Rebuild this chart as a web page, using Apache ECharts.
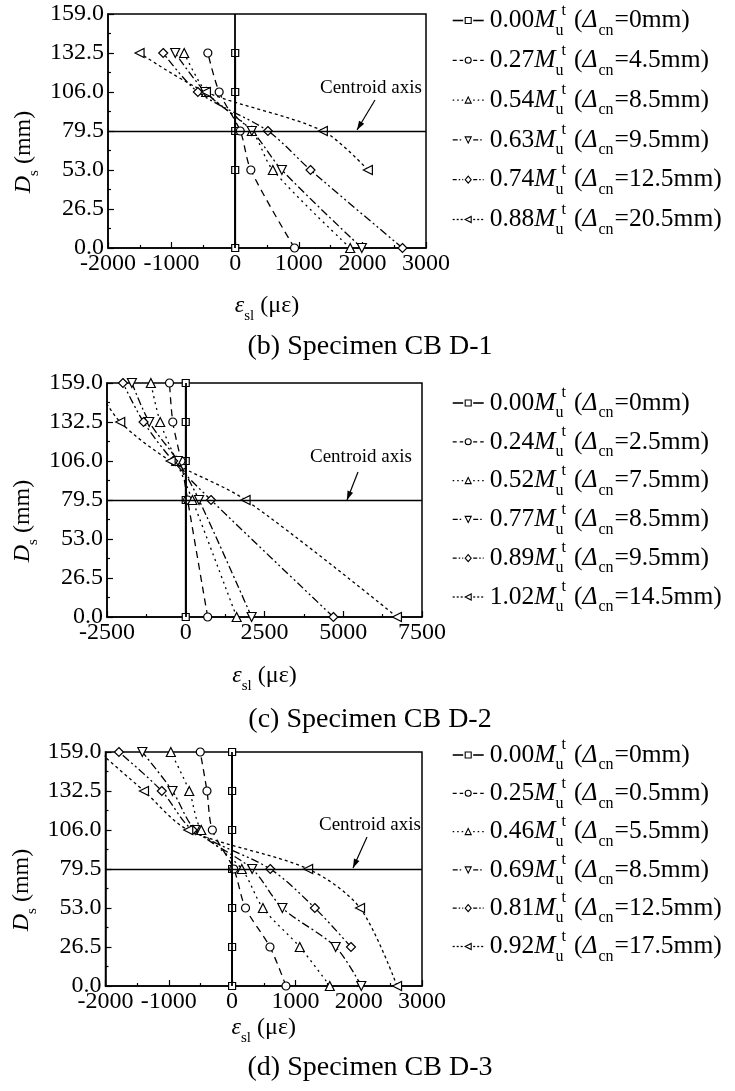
<!DOCTYPE html>
<html><head><meta charset="utf-8">
<script src="https://cdn.jsdelivr.net/npm/echarts@6/dist/echarts.min.js"></script>
<style>html,body{margin:0;padding:0;background:#fff}#c{width:735px;height:1091px}</style>
</head><body><div id="c"></div>
<script>
// depth levels (mm) = y tick labels
const levels = [0, 26.5, 53, 79.5, 106, 132.5, 159];
const yTicks = [0, 26.5, 53, 79.5, 106, 132.5, 159];

// ---- Panel (b) Specimen CB D-1
const bXTicks = [-2000, -1000, 0, 1000, 2000, 3000];
const bLoad  = ['0.00', '0.27', '0.54', '0.63', '0.74', '0.88'];
const bDelta = ['0', '4.5', '8.5', '9.5', '12.5', '20.5'];
const bS0 = [0, null, 0, 0, 0, 0, null];
const bS1 = [933, null, 246, 79, -252, -430, null];
const bS2 = [1808, null, 592, 262, -456, -802, null];
const bS3 = [1991, null, 734, 262, -470, -943, null];
const bS4 = [2630, null, 1184, 514, -587, -1132, null];
const bS5 = [null, null, 2086, 1378, -460, -1504, null];

// ---- Panel (c) Specimen CB D-2
const cXTicks = [-2500, 0, 2500, 5000, 7500];
const cLoad  = ['0.00', '0.24', '0.52', '0.77', '0.89', '1.02'];
const cDelta = ['0', '2.5', '7.5', '8.5', '9.5', '14.5'];
const cS0 = [0, null, null, 0, 0, 0, 0];
const cS1 = [696, null, null, 60, -150, -411, -516];
const cS2 = [1616, null, null, 211, -300, -812, -1107];
const cS3 = [2091, null, null, 422, -250, -1160, -1709];
const cS4 = [4687, null, null, 802, -400, -1340, -1994];
const cS5 = [6705, null, null, 1899, -480, -2080, -2900];

// ---- Panel (d) Specimen CB D-3
const dXTicks = [-2000, -1000, 0, 1000, 2000, 3000];
const dLoad  = ['0.00', '0.25', '0.46', '0.69', '0.81', '0.92'];
const dDelta = ['0', '0.5', '5.5', '8.5', '12.5', '17.5'];
const dS0 = [0, 0, 0, 0, 0, 0, 0];
const dS1 = [851, 598, 212, 26, -312, -397, -503];
const dS2 = [1543, 1069, 487, 153, -487, -677, -968];
const dS3 = [2041, 1636, 794, 317, -582, -942, -1418];
const dS4 = [null, 1878, 1307, 603, -624, -1111, -1788];
const dS5 = [2606, null, 2021, 1201, -693, -1392, -2100];

const captions = ['(b) Specimen CB D-1', '(c) Specimen CB D-2', '(d) Specimen CB D-3'];

// ---- styles
const FONT = 'Liberation Serif';
const symbols = ['rect', 'circle', 'triangle', 'triangle', 'diamond', 'triangle'];
const rotations = [0, 0, 0, 180, 0, 90];
const sizes = [7, 8, 9, 9, 9, 9];
const dashes = ['solid', [7, 5], [2, 4], [8, 3, 2, 3], [8, 3, 2, 3, 2, 3], [3, 3]];
const iconDashes = [null, [4, 3], [1.5, 3], [5, 2, 1.5, 2], [4, 2, 1.5, 2, 1.5, 2], [2, 2]];

const panels = [
  {id: 'b', ticks: bXTicks, load: bLoad, delta: bDelta, vals: [bS0, bS1, bS2, bS3, bS4, bS5],
   grid: {left: 108, top: 14, width: 318, height: 234}, legendTop: 2.5, legendGap: 3.8,
   yNameY: 152, xNameGap: 40, capY: 347, centroid: {x: 320, y: 88, ax: 375, ay: 100, bx: 357, by: 130}},
  {id: 'c', ticks: cXTicks, load: cLoad, delta: cDelta, vals: [cS0, cS1, cS2, cS3, cS4, cS5],
   grid: {left: 107, top: 383, width: 315, height: 234}, legendTop: 385, legendGap: 2.8,
   yNameY: 521, xNameGap: 41, capY: 720, centroid: {x: 310, y: 457, ax: 358, ay: 472, bx: 347, by: 500}},
  {id: 'd', ticks: dXTicks, load: dLoad, delta: dDelta, vals: [dS0, dS1, dS2, dS3, dS4, dS5],
   grid: {left: 105.5, top: 752, width: 316.5, height: 234}, legendTop: 737, legendGap: 2.3,
   yNameY: 890, xNameGap: 24, capY: 1068, centroid: {x: 319, y: 825, ax: 367, ay: 837, bx: 353, by: 868}}
];

function pts(vals) {
  const out = [];
  vals.forEach((v, i) => { if (v !== null) out.push([v, levels[i]]); });
  return out;
}

const labelMap = {};
const grids = [], xAxes = [], yAxes = [], series = [], legends = [], graphics = [];

const richBase = {
  n: {fontFamily: FONT, fontSize: 24, lineHeight: 36, color: '#000'},
  i: {fontFamily: FONT, fontSize: 24, lineHeight: 36, fontStyle: 'italic', color: '#000'},
  sub: {fontFamily: FONT, fontSize: 15, lineHeight: 11, verticalAlign: 'bottom', color: '#000'},
  sup: {fontFamily: FONT, fontSize: 15, lineHeight: 11, verticalAlign: 'top', color: '#000'}
};
const richLegend = {
  n: {fontFamily: FONT, fontSize: 25.5, lineHeight: 36, color: '#000'},
  i: {fontFamily: FONT, fontSize: 25.5, lineHeight: 36, fontStyle: 'italic', color: '#000'},
  sub: {fontFamily: FONT, fontSize: 16, lineHeight: 11, verticalAlign: 'bottom', color: '#000', padding: [0, 1, 0, 1]},
  subz: {fontFamily: FONT, fontSize: 16, lineHeight: 11, verticalAlign: 'bottom', color: '#000', width: 6},
  sup: {fontFamily: FONT, fontSize: 16, lineHeight: 11, verticalAlign: 'top', color: '#000', padding: [0, 8, 0, 0]}
};

function iconMarker(i, cx, cy) {
  const s = 6, h = s / 2;
  const st = {fill: '#fff', stroke: '#000', lineWidth: 1.1};
  const sym = symbols[i], rot = rotations[i];
  if (sym === 'rect') return {type: 'rect', silent: true, z: 5, shape: {x: cx - h, y: cy - h, width: s, height: s}, style: st};
  if (sym === 'circle') return {type: 'circle', silent: true, z: 5, shape: {cx: cx, cy: cy, r: h}, style: st};
  let p;
  if (sym === 'diamond') p = [[cx, cy - h - 0.5], [cx + h, cy], [cx, cy + h + 0.5], [cx - h, cy]];
  else if (rot === 0) p = [[cx, cy - h], [cx + h, cy + h], [cx - h, cy + h]];
  else if (rot === 180) p = [[cx, cy + h], [cx + h, cy - h], [cx - h, cy - h]];
  else p = [[cx - h, cy], [cx + h, cy - h], [cx + h, cy + h]];
  return {type: 'polygon', silent: true, z: 5, shape: {points: p}, style: st};
}

panels.forEach((p, k) => {
  grids.push(Object.assign({show: true, borderColor: '#000', borderWidth: 1.5, backgroundColor: 'transparent'}, p.grid));
  const t = p.ticks;
  xAxes.push({
    type: 'value', gridIndex: k, min: t[0], max: t[t.length - 1], interval: t[1] - t[0],
    axisLine: {onZero: false, lineStyle: {color: '#000', width: 1.5}},
    axisTick: {inside: true, length: 6, lineStyle: {color: '#000', width: 1.2}},
    minorTick: {show: true, splitNumber: 2, length: 3, lineStyle: {color: '#000', width: 1.2}},
    splitLine: {show: false},
    axisLabel: {margin: 4, color: '#000', fontFamily: FONT, fontSize: 24, formatter: v => String(v)},
    name: '{i|ε}{sub|sl}{n| (με)}', nameLocation: 'middle', nameGap: p.xNameGap,
    nameTextStyle: {rich: richBase}
  });
  yAxes.push({
    type: 'value', gridIndex: k, min: yTicks[0], max: yTicks[yTicks.length - 1], interval: yTicks[1] - yTicks[0],
    axisLine: {onZero: false, lineStyle: {color: '#000', width: 1.5}},
    axisTick: {inside: true, length: 6, lineStyle: {color: '#000', width: 1.2}},
    minorTick: {show: true, splitNumber: 2, length: 3, lineStyle: {color: '#000', width: 1.2}},
    splitLine: {show: false},
    axisLabel: {margin: 4, color: '#000', fontFamily: FONT, fontSize: 24, formatter: v => v.toFixed(1)},
    name: '{i|D}{sub|s}{n| (mm)}', nameLocation: 'middle', nameRotate: 90, nameGap: 66,
    nameTextStyle: {rich: richBase, padding: [0, 2 * (p.yNameY - (p.grid.top + p.grid.height / 2)), 0, 0]}
  });
  const names = [];
  p.vals.forEach((vals, i) => {
    const name = p.id + i;
    names.push(name);
    labelMap[name] = {load: p.load[i], delta: p.delta[i]};
    const s = {
      type: 'line', name: name, xAxisIndex: k, yAxisIndex: k, data: pts(vals),
      symbol: symbols[i], symbolRotate: rotations[i], symbolSize: sizes[i],
      smooth: i === 0 ? false : 0.3, clip: true, animation: false,
      lineStyle: {color: '#000', width: i === 0 ? 1.8 : 1.3, type: dashes[i]},
      itemStyle: {color: '#fff', borderColor: '#000', borderWidth: 1.2},
      emphasis: {disabled: true}, z: 3
    };
    if (i === 0) {
      s.markLine = {
        silent: true, symbol: 'none', animation: false, label: {show: false},
        lineStyle: {color: '#000', type: 'solid', width: 1.3},
        data: [{xAxis: 0, lineStyle: {width: 1.8}}, {yAxis: 79.5}]
      };
    }
    series.push(s);
    // legend icon (line - marker - line), drawn next to the legend text
    const cy = p.legendTop + 18 + i * (36 + p.legendGap);
    const x0 = 452.7, x1 = 483.7, cx = (x0 + x1) / 2;
    [[x0, cx - 5], [cx + 5, x1]].forEach(seg => {
      graphics.push({type: 'line', silent: true, z: 4, shape: {x1: seg[0], y1: cy, x2: seg[1], y2: cy},
        style: {stroke: '#000', lineWidth: i === 0 ? 1.6 : 1.3, lineDash: iconDashes[i]}});
    });
    graphics.push(iconMarker(i, cx, cy));
  });
  legends.push({
    data: names, orient: 'vertical', left: 452.7, top: p.legendTop, padding: 0,
    itemGap: p.legendGap, itemWidth: 31, itemHeight: 8, selectedMode: false,
    itemStyle: {opacity: 0}, lineStyle: {opacity: 0},
    textStyle: {rich: richLegend},
    formatter: nm => {
      const L = labelMap[nm];
      return `{n|${L.load}}{i|M}{subz|u}{sup|t}{n|(}{i|Δ}{sub|cn}{n|=${L.delta}mm)}`;
    }
  });
  graphics.push({type: 'text', x: 370, y: p.capY, silent: true,
    style: {text: captions[k], align: 'center', verticalAlign: 'middle', fontFamily: FONT, fontSize: 28, fill: '#000'}});
  const c = p.centroid;
  graphics.push({type: 'text', x: c.x, y: c.y, silent: true,
    style: {text: 'Centroid axis', align: 'left', verticalAlign: 'middle', fontFamily: FONT, fontSize: 19, fill: '#000'}});
  graphics.push({type: 'line', silent: true, shape: {x1: c.ax, y1: c.ay, x2: c.bx, y2: c.by}, style: {stroke: '#000', lineWidth: 1.2}});
  const dx = c.bx - c.ax, dy = c.by - c.ay, len = Math.hypot(dx, dy);
  const ux = dx / len, uy = dy / len, hl = 9, hw = 3;
  graphics.push({type: 'polygon', silent: true, shape: {points: [
    [c.bx, c.by],
    [c.bx - ux * hl - uy * hw, c.by - uy * hl + ux * hw],
    [c.bx - ux * hl + uy * hw, c.by - uy * hl - ux * hw]
  ]}, style: {fill: '#000'}});
});

const chart = echarts.init(document.getElementById('c'), null, {renderer: 'canvas'});
chart.setOption({
  animation: false,
  backgroundColor: '#fff',
  grid: grids, xAxis: xAxes, yAxis: yAxes, series: series, legend: legends,
  graphic: {elements: graphics}
});
</script></body></html>
